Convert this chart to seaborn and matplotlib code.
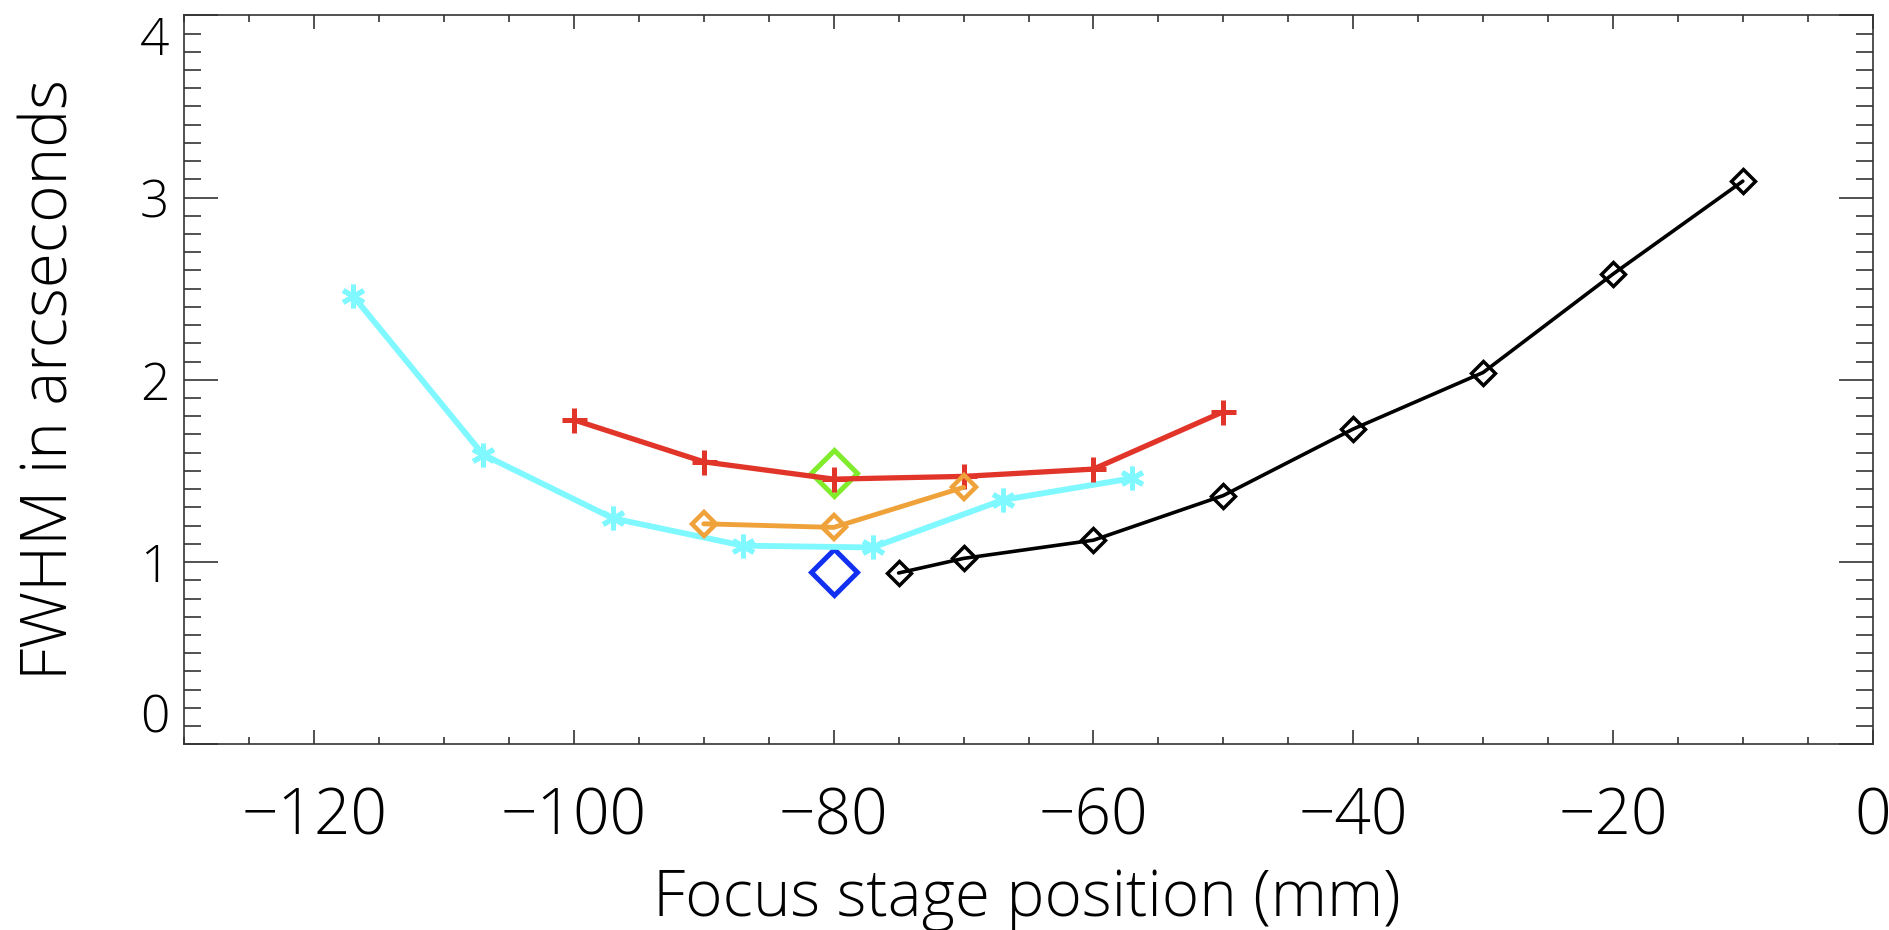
import numpy as np
import matplotlib
matplotlib.use("Agg")
import matplotlib.pyplot as plt
import seaborn as sns
from matplotlib.ticker import MultipleLocator

# focus curves: FWHM (arcsec) against focus stage position (mm)
cyan_x = [-117, -107, -97, -87, -77, -67, -57]
cyan_y = [2.46, 1.59, 1.24, 1.09, 1.08, 1.34, 1.46]

red_x = [-100, -90, -80, -70, -60, -50]
red_y = [1.78, 1.55, 1.455, 1.47, 1.51, 1.825]

orange_x = [-90, -80, -70]
orange_y = [1.21, 1.19, 1.41]

black_x = [-75, -70, -60, -50, -40, -30, -20, -10]
black_y = [0.94, 1.02, 1.12, 1.365, 1.73, 2.04, 2.58, 3.09]

green_x = [-80]
green_y = [1.49]

blue_x = [-80]
blue_y = [0.945]

x_ticks = [-120, -100, -80, -60, -40, -20, 0]
y_ticks = [0, 1, 2, 3, 4]

sns.set_theme(style="white")
plt.rcParams['font.family'] = ['Open Sans', 'Lato', 'DejaVu Sans']
plt.rcParams['font.weight'] = 300
for key in ['text.color', 'axes.labelcolor', 'xtick.color', 'ytick.color']:
    plt.rcParams[key] = 'black'

fig = plt.figure(figsize=(18.9, 9.3), dpi=100)
W, H = 1890, 930
ax = fig.add_axes([184.3 / W, 1 - 744.3 / H, (1872.7 - 184.3) / W, (744.3 - 15.3) / H])

# single big diamonds first so the lines sit on top
sns.lineplot(x=green_x, y=green_y, ax=ax, color='#80ec2c', marker='D', markersize=23,
             markerfacecolor='none', markeredgecolor='#80ec2c', markeredgewidth=3.6,
             linestyle='none')
sns.lineplot(x=blue_x, y=blue_y, ax=ax, color='#1230f2', marker='D', markersize=23,
             markerfacecolor='none', markeredgecolor='#1230f2', markeredgewidth=3.6,
             linestyle='none')

sns.lineplot(x=cyan_x, y=cyan_y, ax=ax, color='#7ff8ff', linewidth=4.2,
             marker=(6, 2, 0), markersize=17, markeredgewidth=3.6, markeredgecolor='#7ff8ff')
sns.lineplot(x=red_x, y=red_y, ax=ax, color='#e2352a', linewidth=3.8,
             marker='+', markersize=18, markeredgewidth=3.6, markeredgecolor='#e2352a')
sns.lineplot(x=orange_x, y=orange_y, ax=ax, color='#f0a23a', linewidth=3.5,
             marker='D', markersize=12, markerfacecolor='none',
             markeredgecolor='#f0a23a', markeredgewidth=3.2)
sns.lineplot(x=black_x, y=black_y, ax=ax, color='black', linewidth=2.6,
             marker='D', markersize=12, markerfacecolor='none',
             markeredgecolor='black', markeredgewidth=2.5)

ax.set_xlim(-130, 0)
ax.set_ylim(0, 4)
ax.set_xticks(x_ticks)
ax.set_yticks(y_ticks)
ax.xaxis.set_minor_locator(MultipleLocator(5))
ax.yaxis.set_minor_locator(MultipleLocator(0.1))

ax.tick_params(axis='both', which='both', direction='in', top=True, right=True,
               bottom=True, left=True, color='#333333', width=1.2)
ax.tick_params(axis='x', which='major', length=10.4, pad=30, labelsize=46)
ax.tick_params(axis='x', which='minor', length=5.3)
ax.tick_params(axis='y', which='major', length=24.5, pad=11, labelsize=37)
ax.tick_params(axis='y', which='minor', length=12.2)

for lab, val in zip(ax.get_yticklabels(), y_ticks):
    if val == 4:
        lab.set_va('top')
    elif val == 0:
        lab.set_va('bottom')

for s in ax.spines.values():
    s.set_color('#333333')
    s.set_linewidth(1.2)

ax.set_xlabel('')
ax.set_ylabel('')
fig.text(1027 / W, 1 - 916 / H, 'Focus stage position (mm)', ha='center', va='baseline',
         fontsize=46)
fig.text(68 / W, 1 - 380 / H, 'FWHM in arcseconds', ha='center', va='baseline',
         rotation=90, rotation_mode='anchor', fontsize=46)

fig.savefig('out.png', dpi=100)
